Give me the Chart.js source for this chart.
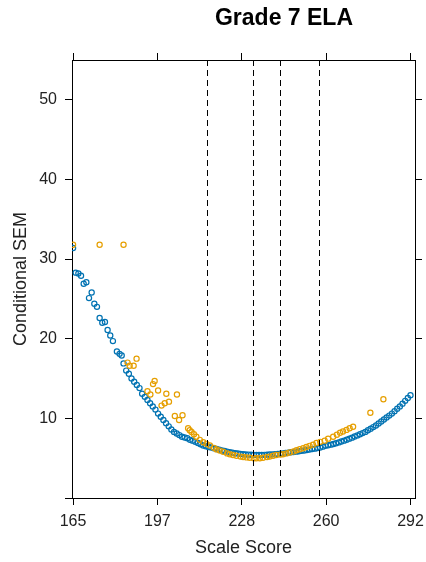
<!DOCTYPE html>
<html>
<head>
<meta charset="utf-8">
<script src="https://cdn.jsdelivr.net/npm/chart.js@4/dist/chart.umd.min.js"></script>
<style>
  html, body { margin: 0; padding: 0; background: #fff; }
  #wrap { width: 426px; height: 562px; position: relative; }
</style>
</head>
<body>
<div id="wrap"><canvas id="canvas"></canvas></div>
<script>
var chartTitle = "Grade 7 ELA";
var xTitle = "Scale Score";
var yTitle = "Conditional SEM";

// blue series
var blueScore = [165, 166, 167, 168, 169, 170, 171, 172, 173, 174, 175, 176, 177, 178, 179, 180,
	181.5, 182.5, 183.3, 184, 185, 186, 187, 188, 189, 190, 191, 192, 193, 194, 195, 196, 197,
	198, 199, 200, 201, 202, 203, 204, 205, 206, 207, 208, 209, 210, 211, 212, 213, 214, 215,
	216, 217, 218, 219, 220, 221, 222, 223, 224, 225, 226, 227, 228, 229, 230, 231, 232, 233,
	234, 235, 236, 237, 238, 239, 240, 241, 242, 243, 244, 245, 246, 247, 248, 249, 250, 251,
	252, 253, 254, 255, 256, 257, 258, 259, 260, 261, 262, 263, 264, 265, 266, 267, 268, 269,
	270, 271, 272, 273, 274, 275, 276, 277, 278, 279, 280, 281, 282, 283, 284, 285, 286, 287,
	288, 289, 290, 291, 292];
var blueSem = [31.4, 28.3, 28.2, 27.9, 26.9, 27.1, 25.1, 25.8, 24.4, 24.0, 22.6, 22.0, 22.1, 21.1, 20.4, 19.7,
	18.4, 18.1, 17.9, 16.9, 16.0, 15.6, 15.0, 14.6, 14.2, 13.8, 13.1, 12.7, 12.3, 11.9, 11.5, 11.1, 10.6,
	10.2, 9.8, 9.4, 9.0, 8.6, 8.3, 8.1, 7.9, 7.7, 7.6, 7.5, 7.3, 7.2, 7.05, 6.9, 6.75, 6.6, 6.5,
	6.4, 6.35, 6.25, 6.15, 6.05, 5.98, 5.9, 5.82, 5.75, 5.68, 5.62, 5.58, 5.54, 5.5, 5.47, 5.45, 5.43, 5.42,
	5.41, 5.4, 5.41, 5.42, 5.44, 5.46, 5.48, 5.5, 5.53, 5.57, 5.6, 5.65, 5.7, 5.74, 5.78, 5.82, 5.87, 5.92,
	5.97, 6.02, 6.08, 6.15, 6.2, 6.28, 6.35, 6.45, 6.55, 6.62, 6.7, 6.78, 6.88, 6.98, 7.1, 7.2, 7.32, 7.45,
	7.58, 7.72, 7.86, 8.0, 8.15, 8.3, 8.5, 8.7, 8.9, 9.1, 9.35, 9.6, 9.85, 10.1, 10.35, 10.6, 10.9, 11.2,
	11.5, 11.85, 12.2, 12.55, 12.9];

// orange series
var orangeScore = [165, 175, 184, 185.5, 186.3, 187.8, 188.9, 193.0, 194.1, 195.1, 195.7, 197.0, 198.3,
	199.5, 200.1, 201.1, 203.3, 204.1, 204.9, 206.2, 208.3, 208.9, 209.6, 210.5, 211.4, 212.7, 214,
	215.2, 216.5, 218, 219, 220.2, 221.5, 223, 224, 225.2, 226.5, 228, 229, 230.3, 231.5, 233, 234,
	235.3, 236.5, 238, 239, 240.3, 241.5, 243, 244, 245.3, 246.5, 248, 249.1, 250.3, 251.6, 252.8,
	254, 255.3, 256.6, 258, 259.7, 261, 262.9, 264.3, 265.5, 266.6, 267.9, 269.1, 270.4, 276.9, 281.8];
var orangeSem = [31.8, 31.8, 31.8, 17.0, 16.6, 16.6, 17.5, 13.4, 13.0, 14.3, 14.7, 13.5, 11.6,
	11.9, 13.1, 12.1, 10.3, 13.0, 9.8, 10.4, 8.75, 8.5, 8.3, 8.0, 7.7, 7.3, 7.0,
	6.8, 6.6, 6.3, 6.1, 5.95, 5.8, 5.6, 5.5, 5.4, 5.3, 5.2, 5.15, 5.1, 5.05, 5.0, 5.0,
	5.0, 5.05, 5.15, 5.2, 5.3, 5.4, 5.45, 5.5, 5.6, 5.72, 5.85, 6.0, 6.12, 6.25, 6.4,
	6.55, 6.7, 6.9, 7.05, 7.2, 7.45, 7.7, 7.95, 8.2, 8.35, 8.55, 8.75, 8.95, 10.7, 12.4];

// dashed cut score lines
var cutScores = [215.6, 232.7, 242.7, 257.5];

var xTickValues = [165, 196.75, 228.5, 260.25, 292];
var xTickLabels = ["165", "197", "228", "260", "292"];
var yTickValues = [0, 10, 20, 30, 40, 50];
var yTickLabels = ["", "10", "20", "30", "40", "50"];

var blueColor = "#0072B2";
var orangeColor = "#E69F00";
var fontFamily = "'Liberation Sans', Arial, sans-serif";

function toPoints(xs, ys) {
	var pts = [];
	for (var i in xs) {
		pts.push({x: xs[i], y: ys[i]});
	}
	return pts;
}

var cutLines = {
	id: "cutLines",
	afterDatasetsDraw: function(chart) {
		var ctx = chart.ctx;
		var area = chart.chartArea;
		var xs = chart.scales.x;
		ctx.save();
		ctx.strokeStyle = "#000";
		ctx.lineWidth = 1;
		ctx.setLineDash([6, 4]);
		for (var i in cutScores) {
			var px = Math.round(xs.getPixelForValue(cutScores[i])) + 0.5;
			ctx.beginPath();
			ctx.moveTo(px, area.top);
			ctx.lineTo(px, area.bottom);
			ctx.stroke();
		}
		ctx.restore();
	}
};

var topTitle = {
	id: "topTitle",
	afterDraw: function(chart) {
		var ctx = chart.ctx;
		ctx.save();
		ctx.fillStyle = "#000";
		ctx.font = "bold 23px " + fontFamily;
		ctx.textAlign = "center";
		ctx.textBaseline = "alphabetic";
		ctx.fillText(chartTitle, 284, 25);
		ctx.restore();
	}
};

var frame = {
	display: true,
	color: "#000",
	width: 1
};
var tickGrid = {
	drawOnChartArea: false,
	drawTicks: true,
	tickLength: 7,
	color: "#000",
	lineWidth: 1
};

// keep the plot box fixed, no extra room for overhanging labels
function noPad(s) {
	s.paddingLeft = 0;
	s.paddingRight = 0;
	s.paddingTop = 0;
	s.paddingBottom = 0;
}

var ctx = document.getElementById("canvas").getContext("2d");

var SemChart = new Chart(ctx, {
	type: "scatter",
	data: {
		datasets: [
			{
				label: "orange",
				data: toPoints(orangeScore, orangeSem),
				order: 0,
				borderColor: orangeColor,
				backgroundColor: "rgba(0,0,0,0)",
				pointRadius: 2.6,
				borderWidth: 1.2
			},
			{
				label: "blue",
				data: toPoints(blueScore, blueSem),
				order: 1,
				borderColor: blueColor,
				backgroundColor: "rgba(0,0,0,0)",
				pointRadius: 2.6,
				borderWidth: 1.2
			}
		]
	},
	options: {
		responsive: true,
		maintainAspectRatio: false,
		animation: false,
		layout: { padding: { top: 52, right: 3, bottom: 0, left: 0 } },
		plugins: {
			legend: { display: false },
			tooltip: { enabled: false },
			title: { display: false }
		},
		scales: {
			x: {
				type: "linear",
				position: "bottom",
				min: 164.6,
				max: 293.7,
				border: frame,
				grid: tickGrid,
				afterBuildTicks: function(s) {
					s.ticks = xTickValues.map(function(v) { return {value: v}; });
				},
				afterFit: function(s) { s.height = 64; noPad(s); },
				ticks: {
					padding: 7,
					color: "#222",
					font: { family: fontFamily, size: 16 },
					maxRotation: 0,
					autoSkip: false,
					callback: function(value, index) { return xTickLabels[index]; }
				},
				title: {
					display: true,
					text: xTitle,
					color: "#222",
					font: { family: fontFamily, size: 18 },
					padding: { top: 0, bottom: 3 }
				}
			},
			x2: {
				type: "linear",
				position: "top",
				min: 164.6,
				max: 293.7,
				border: frame,
				grid: tickGrid,
				afterBuildTicks: function(s) {
					s.ticks = xTickValues.map(function(v) { return {value: v}; });
				},
				afterFit: function(s) { s.height = 8; noPad(s); },
				ticks: { display: false }
			},
			y: {
				type: "linear",
				position: "left",
				min: 0,
				max: 55,
				border: frame,
				grid: tickGrid,
				afterBuildTicks: function(s) {
					s.ticks = yTickValues.map(function(v) { return {value: v}; });
				},
				afterFit: function(s) { s.width = 72; noPad(s); },
				ticks: {
					padding: 8,
					color: "#222",
					font: { family: fontFamily, size: 16 },
					autoSkip: false,
					callback: function(value, index) { return yTickLabels[index]; }
				},
				title: {
					display: true,
					text: yTitle,
					color: "#222",
					font: { family: fontFamily, size: 18 },
					padding: { top: 10, bottom: 0 }
				}
			},
			y2: {
				type: "linear",
				position: "right",
				min: 0,
				max: 55,
				border: frame,
				grid: tickGrid,
				afterBuildTicks: function(s) {
					s.ticks = yTickValues.slice(1).map(function(v) { return {value: v}; });
				},
				afterFit: function(s) { s.width = 8; noPad(s); },
				ticks: { display: false }
			}
		}
	},
	plugins: [cutLines, topTitle]
});
</script>
</body>
</html>
